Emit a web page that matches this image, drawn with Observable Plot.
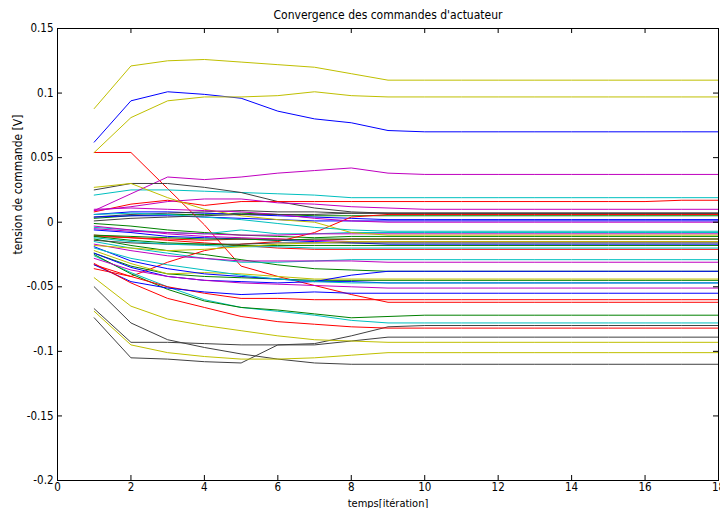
<!DOCTYPE html>
<html>
<head>
<meta charset="utf-8">
<script src="https://cdn.jsdelivr.net/npm/d3@7"></script>
<script src="https://cdn.jsdelivr.net/npm/@observablehq/plot@0.6"></script>
<style>
  body { margin: 0; background: #fff; }
  #chart svg { font-family: "Liberation Sans Narrow", "DejaVu Sans Condensed", sans-serif; }
</style>
</head>
<body>
<div id="chart"></div>
<script>
// Itérations de la boucle de commande
const iterations = [1, 2, 3, 4, 5, 6, 7, 8, 9, 10, 11, 12, 13, 14, 15, 16, 17, 18];
const xTicks = [0, 2, 4, 6, 8, 10, 12, 14, 16, 18];
const yTicks = [-0.2, -0.15, -0.1, -0.05, 0, 0.05, 0.1, 0.15];

// Tensions de commande [V] par actionneur, regroupées selon l'ordre des couleurs
const bleu = [
  [0.062, 0.094, 0.101, 0.099, 0.096, 0.086, 0.080, 0.077, 0.071, 0.070, 0.070, 0.070, 0.070, 0.070, 0.070, 0.070, 0.070, 0.070],
  [0.006, 0.008, 0.008, 0.007, 0.006, 0.005, 0.004, 0.003, 0.002, 0.002, 0.002, 0.002, 0.002, 0.002, 0.002, 0.002, 0.002, 0.002],
  [0.004, 0.005, 0.005, 0.004, 0.003, 0.002, 0.001, 0.001, 0.001, 0.001, 0.001, 0.001, 0.001, 0.001, 0.001, 0.001, 0.001, 0.001],
  [-0.006, -0.008, -0.011, -0.012, -0.013, -0.014, -0.015, -0.016, -0.017, -0.017, -0.017, -0.017, -0.017, -0.017, -0.017, -0.017, -0.017, -0.017],
  [-0.019, -0.030, -0.036, -0.040, -0.042, -0.044, -0.046, -0.041, -0.038, -0.038, -0.038, -0.038, -0.038, -0.038, -0.038, -0.038, -0.038, -0.038],
  [-0.024, -0.035, -0.042, -0.045, -0.046, -0.047, -0.046, -0.046, -0.047, -0.047, -0.047, -0.047, -0.047, -0.047, -0.047, -0.047, -0.047, -0.047],
  [-0.033, -0.046, -0.051, -0.054, -0.056, -0.055, -0.054, -0.055, -0.055, -0.055, -0.055, -0.055, -0.055, -0.055, -0.055, -0.055, -0.055, -0.055]
];
const vert = [
  [0.003, 0.005, 0.006, 0.006, 0.007, 0.006, 0.005, 0.005, 0.005, 0.005, 0.005, 0.005, 0.005, 0.005, 0.005, 0.005, 0.005, 0.005],
  [-0.001, -0.003, -0.006, -0.008, -0.010, -0.011, -0.012, -0.011, -0.011, -0.011, -0.011, -0.011, -0.011, -0.011, -0.011, -0.011, -0.011, -0.011],
  [-0.013, -0.018, -0.022, -0.025, -0.029, -0.033, -0.036, -0.037, -0.038, -0.038, -0.038, -0.038, -0.038, -0.038, -0.038, -0.038, -0.038, -0.038],
  [-0.024, -0.034, -0.040, -0.042, -0.043, -0.044, -0.045, -0.045, -0.045, -0.045, -0.045, -0.045, -0.045, -0.045, -0.045, -0.045, -0.045, -0.045],
  [-0.025, -0.040, -0.052, -0.061, -0.066, -0.068, -0.071, -0.074, -0.073, -0.072, -0.072, -0.072, -0.072, -0.072, -0.072, -0.072, -0.072, -0.072],
  [-0.010, -0.011, -0.012, -0.013, -0.013, -0.014, -0.013, -0.013, -0.013, -0.013, -0.013, -0.013, -0.013, -0.013, -0.013, -0.013, -0.013, -0.013],
  [-0.011, -0.014, -0.016, -0.017, -0.018, -0.018, -0.018, -0.018, -0.018, -0.018, -0.018, -0.018, -0.018, -0.018, -0.018, -0.018, -0.018, -0.018]
];
const rouge = [
  [0.054, 0.054, 0.026, -0.002, -0.034, -0.042, -0.049, -0.056, -0.062, -0.062, -0.062, -0.062, -0.062, -0.062, -0.062, -0.062, -0.062, -0.062],
  [0.008, 0.014, 0.017, 0.013, 0.016, 0.016, 0.016, 0.016, 0.016, 0.016, 0.016, 0.016, 0.016, 0.016, 0.016, 0.016, 0.017, 0.017],
  [-0.033, -0.042, -0.031, -0.022, -0.017, -0.015, -0.008, 0.004, 0.006, 0.006, 0.006, 0.006, 0.006, 0.006, 0.006, 0.006, 0.006, 0.006],
  [-0.010, -0.012, -0.013, -0.014, -0.013, -0.013, -0.014, -0.013, -0.013, -0.013, -0.013, -0.013, -0.013, -0.013, -0.013, -0.013, -0.013, -0.013],
  [-0.011, -0.012, -0.014, -0.016, -0.018, -0.020, -0.021, -0.021, -0.021, -0.021, -0.021, -0.021, -0.021, -0.021, -0.021, -0.021, -0.021, -0.021],
  [-0.036, -0.042, -0.050, -0.055, -0.059, -0.059, -0.060, -0.060, -0.060, -0.060, -0.060, -0.060, -0.060, -0.060, -0.060, -0.060, -0.060, -0.060],
  [-0.032, -0.047, -0.059, -0.066, -0.073, -0.077, -0.079, -0.081, -0.082, -0.082, -0.082, -0.082, -0.082, -0.082, -0.082, -0.082, -0.082, -0.082]
];
const cyan = [
  [0.021, 0.025, 0.025, 0.024, 0.023, 0.022, 0.021, 0.019, 0.019, 0.019, 0.019, 0.019, 0.019, 0.019, 0.019, 0.019, 0.019, 0.019],
  [-0.004, -0.006, -0.008, -0.009, -0.006, -0.009, -0.009, -0.008, -0.008, -0.008, -0.008, -0.008, -0.008, -0.008, -0.008, -0.008, -0.008, -0.008],
  [-0.015, -0.020, -0.024, -0.028, -0.031, -0.031, -0.030, -0.029, -0.029, -0.029, -0.029, -0.029, -0.029, -0.029, -0.029, -0.029, -0.029, -0.029],
  [-0.026, -0.039, -0.050, -0.060, -0.066, -0.069, -0.072, -0.076, -0.078, -0.078, -0.078, -0.078, -0.078, -0.078, -0.078, -0.078, -0.078, -0.078],
  [0.006, 0.007, 0.006, 0.004, 0.002, -0.001, -0.004, -0.006, -0.007, -0.007, -0.007, -0.007, -0.007, -0.007, -0.007, -0.007, -0.007, -0.007],
  [-0.020, -0.028, -0.033, -0.037, -0.041, -0.044, -0.046, -0.047, -0.047, -0.047, -0.047, -0.047, -0.047, -0.047, -0.047, -0.047, -0.047, -0.047],
  [-0.012, -0.015, -0.017, -0.018, -0.019, -0.019, -0.020, -0.020, -0.020, -0.020, -0.020, -0.020, -0.020, -0.020, -0.020, -0.020, -0.020, -0.020]
];
const magenta = [
  [0.009, 0.022, 0.035, 0.033, 0.035, 0.038, 0.040, 0.042, 0.038, 0.037, 0.037, 0.037, 0.037, 0.037, 0.037, 0.037, 0.037, 0.037],
  [0.009, 0.012, 0.016, 0.018, 0.018, 0.015, 0.014, 0.012, 0.011, 0.010, 0.010, 0.010, 0.010, 0.010, 0.010, 0.010, 0.010, 0.010],
  [-0.005, -0.007, -0.008, -0.009, -0.010, -0.010, -0.009, -0.009, -0.009, -0.009, -0.009, -0.009, -0.009, -0.009, -0.009, -0.009, -0.009, -0.009],
  [-0.003, -0.006, -0.009, -0.011, -0.012, -0.013, -0.014, -0.015, -0.015, -0.015, -0.015, -0.015, -0.015, -0.015, -0.015, -0.015, -0.015, -0.015],
  [-0.017, -0.022, -0.026, -0.028, -0.030, -0.030, -0.030, -0.030, -0.031, -0.031, -0.031, -0.031, -0.031, -0.031, -0.031, -0.031, -0.031, -0.031],
  [-0.028, -0.037, -0.042, -0.045, -0.047, -0.048, -0.049, -0.050, -0.051, -0.051, -0.051, -0.051, -0.051, -0.051, -0.051, -0.051, -0.051, -0.051],
  [0.010, 0.011, 0.010, 0.009, 0.008, 0.006, 0.003, 0.001, 0.000, 0.000, 0.000, 0.000, 0.000, 0.000, 0.000, 0.000, 0.000, 0.000]
];
const jaune = [
  [0.088, 0.121, 0.125, 0.126, 0.124, 0.122, 0.120, 0.115, 0.110, 0.110, 0.110, 0.110, 0.110, 0.110, 0.110, 0.110, 0.110, 0.110],
  [0.054, 0.081, 0.094, 0.097, 0.097, 0.098, 0.101, 0.098, 0.097, 0.097, 0.097, 0.097, 0.097, 0.097, 0.097, 0.097, 0.097, 0.097],
  [0.027, 0.030, 0.019, 0.010, 0.005, 0.002, 0.000, -0.008, -0.010, -0.010, -0.010, -0.010, -0.010, -0.010, -0.010, -0.010, -0.010, -0.010],
  [-0.022, -0.032, -0.040, -0.039, -0.040, -0.042, -0.044, -0.044, -0.044, -0.044, -0.044, -0.044, -0.044, -0.044, -0.044, -0.044, -0.044, -0.044],
  [-0.043, -0.065, -0.075, -0.080, -0.084, -0.088, -0.091, -0.092, -0.093, -0.093, -0.093, -0.093, -0.093, -0.093, -0.093, -0.093, -0.093, -0.093],
  [-0.069, -0.095, -0.101, -0.104, -0.106, -0.106, -0.105, -0.103, -0.101, -0.101, -0.101, -0.101, -0.101, -0.101, -0.101, -0.101, -0.101, -0.101],
  [-0.018, -0.020, -0.022, -0.021, -0.019, -0.017, -0.016, -0.015, -0.015, -0.015, -0.015, -0.015, -0.015, -0.015, -0.015, -0.015, -0.015, -0.015]
];
const noir = [
  [0.025, 0.030, 0.030, 0.027, 0.023, 0.016, 0.011, 0.008, 0.007, 0.007, 0.007, 0.007, 0.007, 0.007, 0.007, 0.007, 0.007, 0.007],
  [0.004, 0.006, 0.007, 0.008, 0.009, 0.008, 0.008, 0.007, 0.007, 0.007, 0.007, 0.007, 0.007, 0.007, 0.007, 0.007, 0.007, 0.007],
  [-0.067, -0.093, -0.093, -0.094, -0.095, -0.095, -0.095, -0.092, -0.089, -0.089, -0.089, -0.089, -0.089, -0.089, -0.089, -0.089, -0.089, -0.089],
  [-0.074, -0.105, -0.106, -0.108, -0.109, -0.095, -0.094, -0.088, -0.081, -0.080, -0.080, -0.080, -0.080, -0.080, -0.080, -0.080, -0.080, -0.080],
  [-0.050, -0.078, -0.091, -0.097, -0.102, -0.106, -0.109, -0.110, -0.110, -0.110, -0.110, -0.110, -0.110, -0.110, -0.110, -0.110, -0.110, -0.110],
  [-0.014, -0.016, -0.017, -0.017, -0.017, -0.016, -0.016, -0.016, -0.016, -0.016, -0.016, -0.016, -0.016, -0.016, -0.016, -0.016, -0.016, -0.016],
  [0.001, 0.003, 0.004, 0.005, 0.006, 0.006, 0.006, 0.007, 0.007, 0.007, 0.007, 0.007, 0.007, 0.007, 0.007, 0.007, 0.007, 0.007]
];

// Ordre de couleurs classique b, g, r, c, m, y, k
const groupes = [["bleu", bleu], ["vert", vert], ["rouge", rouge], ["cyan", cyan], ["magenta", magenta], ["jaune", jaune], ["noir", noir]];
const couleurs = {bleu: "#0000ff", vert: "#008000", rouge: "#ff0000", cyan: "#00bfbf", magenta: "#bf00bf", jaune: "#bfbf00", noir: "#404040"};

// Table longue : une ligne par (actionneur, itération), tracé entrelacé comme une matrice de colonnes
const lignes = [];
for (let j = 0; j < 7; ++j) {
  for (const [nom, series] of groupes) {
    const s = series[j];
    if (!s) continue;
    s.forEach((v, i) => lignes.push({t: iterations[i], v, id: `${nom}-${j}`, couleur: couleurs[nom]}));
  }
}

const W = 720, H = 508;
const mL = 57, mR = 2, mT = 28, mB = 28;
const innerW = W - mL - mR, innerH = H - mT - mB;
const tick = 5;

const chart = Plot.plot({
  width: W,
  height: H,
  marginLeft: mL,
  marginRight: mR,
  marginTop: mT,
  marginBottom: mB,
  style: {fontSize: "11.5px", color: "#000", background: "#fff"},
  x: {domain: [0, 18]},
  y: {domain: [-0.2, 0.15]},
  color: {type: "identity"},
  marks: [
    Plot.line(lignes, {x: "t", y: "v", z: "id", stroke: "couleur", strokeWidth: 1}),
    Plot.frame({stroke: "#000", strokeWidth: 1}),
    // graduations intérieures sur les quatre côtés
    Plot.tickX(xTicks, {x: d => d, insetTop: innerH - tick, stroke: "#000"}),
    Plot.tickX(xTicks, {x: d => d, insetBottom: innerH - tick, stroke: "#000"}),
    Plot.tickY(yTicks, {y: d => d, insetRight: innerW - tick, stroke: "#000"}),
    Plot.tickY(yTicks, {y: d => d, insetLeft: innerW - tick, stroke: "#000"}),
    Plot.axisX(xTicks, {tickSize: 0, tickPadding: 2, label: null, tickFormat: d => String(d)}),
    Plot.axisY(yTicks, {tickSize: 0, tickPadding: 4, label: null, tickFormat: d => String(d)}),
    Plot.text(["Convergence des commandes d'actuateur"], {frameAnchor: "top", dy: -13, lineAnchor: "middle", fontSize: 12}),
    Plot.text(["temps[itération]"], {frameAnchor: "bottom", dy: 23, lineAnchor: "middle", fontSize: 11}),
    Plot.text(["tension de commande [V]"], {frameAnchor: "left", dx: -39, rotate: -90, fontSize: 12})
  ]
});
document.getElementById("chart").append(chart);
</script>
</body>
</html>
